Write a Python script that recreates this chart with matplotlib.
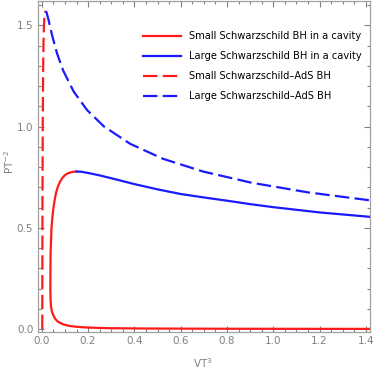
import matplotlib
matplotlib.use("Agg")
import matplotlib.pyplot as plt
from matplotlib.ticker import MultipleLocator

# Schwarzschild BH in a cavity
small_cavity_v = [0.150, 0.138, 0.125, 0.114, 0.100, 0.090, 0.080, 0.070, 0.062, 0.056,
                  0.050, 0.046, 0.042, 0.040, 0.038, 0.0375, 0.037, 0.038, 0.040, 0.043,
                  0.049, 0.058, 0.070, 0.090, 0.115, 0.150, 0.200, 0.294, 0.45, 0.70,
                  1.00, 1.42]
small_cavity_p = [0.778, 0.777, 0.774, 0.770, 0.760, 0.748, 0.730, 0.705, 0.675, 0.640,
                  0.595, 0.556, 0.500, 0.440, 0.370, 0.300, 0.200, 0.140, 0.110, 0.090,
                  0.070, 0.050, 0.036, 0.024, 0.016, 0.011, 0.007, 0.004, 0.0025, 0.0015,
                  0.001, 0.0007]
large_cavity_v = [0.150, 0.17, 0.20, 0.25, 0.30, 0.40, 0.50, 0.60, 0.70, 0.80, 0.90, 1.00,
                  1.10, 1.20, 1.30, 1.42]
large_cavity_p = [0.778, 0.777, 0.771, 0.759, 0.745, 0.716, 0.690, 0.667, 0.650, 0.634,
                  0.617, 0.602, 0.589, 0.576, 0.566, 0.554]

# Schwarzschild-AdS BH
small_ads_v = [0.00211, 0.00257, 0.00305, 0.00419, 0.00558, 0.00724, 0.0092, 0.01149, 0.01414, 0.01689]
small_ads_p = [0.0, 0.375, 0.644, 1.021, 1.257, 1.404, 1.492, 1.541, 1.565, 1.571]
large_ads_v = [0.01689, 0.02058, 0.02873, 0.0446, 0.06545, 0.09195, 0.1373, 0.1954, 0.2681,
               0.3817, 0.5236, 0.6969, 0.9048, 1.1504, 1.4368]
large_ads_p = [1.571, 1.564, 1.529, 1.451, 1.363, 1.278, 1.174, 1.082, 1.001, 0.915, 0.841,
               0.778, 0.723, 0.675, 0.633]

labels = ["Small Schwarzschild BH in a cavity", "Large Schwarzschild BH in a cavity",
          "Small Schwarzschild\u2013AdS BH", "Large Schwarzschild\u2013AdS BH"]

RED = "#ff1a1a"
BLUE = "#1a1aff"
GRAY = "#808080"

fig = plt.figure(figsize=(3.74, 3.70), dpi=100)
ax = fig.add_axes([0.1003, 0.1035, 0.8887, 0.8935])

dash = (6.5, 2.4)
ax.plot(small_cavity_v, small_cavity_p, color=RED, lw=1.6, label=labels[0])
ax.plot(large_cavity_v, large_cavity_p, color=BLUE, lw=1.6, label=labels[1])
ax.plot(small_ads_v, small_ads_p, color=RED, lw=1.6, dashes=dash, label=labels[2])
ax.plot(large_ads_v, large_ads_p, color=BLUE, lw=1.6, dashes=dash, label=labels[3])

ax.set_xlim(-0.0185, 1.4175)
ax.set_ylim(-0.0133, 1.62)

ax.xaxis.set_major_locator(MultipleLocator(0.2))
ax.xaxis.set_minor_locator(MultipleLocator(0.05))
ax.yaxis.set_major_locator(MultipleLocator(0.5))
ax.yaxis.set_minor_locator(MultipleLocator(0.1))
ax.tick_params(which="both", direction="in", top=True, right=True, color=GRAY,
               labelcolor=GRAY, labelsize=7.5, width=0.8)
ax.tick_params(which="major", length=4, pad=3)
ax.tick_params(which="minor", length=2.2)
ax.tick_params(labeltop=False, labelright=False)
for s in ax.spines.values():
    s.set_color("#a0a0a0")
    s.set_linewidth(0.9)

ax.set_xlabel(r"VT$^3$", color=GRAY, fontsize=7.5)
ax.set_ylabel(r"PT$^{-2}$", color=GRAY, fontsize=7.5)
ax.xaxis.set_label_coords(0.498, -0.095, transform=ax.transAxes)
ax.yaxis.set_label_coords(-0.086, 0.513, transform=ax.transAxes)
ax.xaxis.label.set_va("center")
ax.yaxis.label.set_va("center")

ax.legend(loc="upper left", bbox_to_anchor=(0.382, 0.915), bbox_transform=fig.transFigure,
          frameon=False, fontsize=7.1, handlelength=3.85, handletextpad=0.8,
          labelspacing=1.0, borderaxespad=0, borderpad=0)

fig.savefig("out.png", dpi=100)
